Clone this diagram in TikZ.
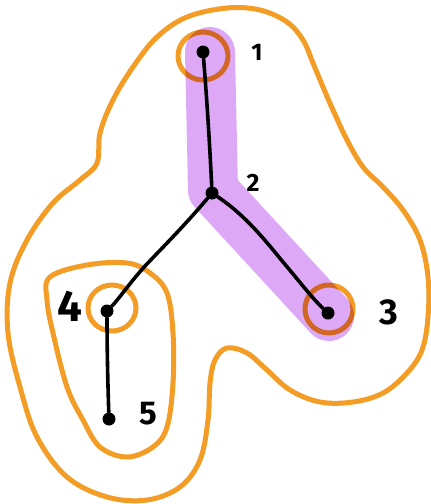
\documentclass[tikz,border=0pt]{standalone}
\usepackage{fontspec}
\setsansfont{Fira Sans}
\definecolor{blobOrange}{HTML}{F39C26}
\definecolor{pathPurple}{HTML}{DDA9F7}
\tikzset{
  vertex/.style={circle, fill=black, inner sep=0pt, minimum size=13pt},
  edge/.style={draw=black, line width=3.6pt, line cap=round},
  blob/.style={draw=blobOrange, line width=5pt, line join=round},
  ring/.style={draw=blobOrange, line width=5pt},
  highlight/.style={draw=pathPurple, line width=50pt, line cap=round, line join=round},
  lbl/.style={text=black, inner sep=0pt}
}
\begin{document}
\begin{tikzpicture}[x=1pt, y=-1pt]
  \useasboundingbox (0,0) rectangle (431,504);

  % highlighted path 1 - 2 - 3
  \draw[highlight] (210,52) -- (213,190) -- (329,316);

  % outer cluster
  \draw[blob] plot[smooth cycle, tension=0.6] coordinates {
    (97,163) (100,133) (113,100) (133,67) (157,37) (187,17) (227,8)
    (260,10) (287,22) (303,40) (313,63) (323,87) (333,110) (347,140)
    (363,167) (383,187) (403,210) (420,240) (428,277) (428,317)
    (422,350) (407,373) (383,393) (353,402) (320,402) (290,390)
    (267,370) (247,353) (227,348) (215,360) (210,383) (208,420)
    (200,460) (180,487) (147,500) (107,497) (67,477) (37,437)
    (20,387) (8,333) (10,283) (27,240) (53,203) (80,180)};

  % inner cluster around 4 and 5
  \draw[blob] plot[smooth cycle, tension=0.6] coordinates {
    (50,277) (87,265) (127,263) (150,273) (167,293) (173,333)
    (173,383) (167,427) (153,447) (127,457) (100,447) (83,420)
    (67,387) (53,333) (47,300)};

  % single-vertex rings, multiplied over the highlight
  \begin{scope}[blend mode=multiply]
    \draw[ring] (203,56) circle [x radius=25pt, y radius=24pt];
    \draw[ring] (329,309) circle [x radius=24pt, y radius=24pt];
    \draw[ring] (112,308) circle [x radius=24pt, y radius=23pt];
  \end{scope}

  % vertices
  \node[vertex] (n1) at (203,52) {};
  \node[vertex] (n2) at (212,193) {};
  \node[vertex] (n3) at (328,313) {};
  \node[vertex] (n4) at (107,311) {};
  \node[vertex] (n5) at (109,419) {};

  % edges
  \draw[edge] (n1) .. controls (207,100) and (210,150) .. (n2);
  \draw[edge] (n2) .. controls (245,215) and (265,240) .. (283,262)
                   .. controls (300,282) and (312,298) .. (n3);
  \draw[edge] (n2) .. controls (185,225) and (165,245) .. (145,266)
                   .. controls (128,285) and (118,300) .. (n4);
  \draw[edge] (n4) .. controls (107,350) and (108,390) .. (n5);

  % labels
  \node[lbl, font=\sffamily\bfseries\fontsize{24}{24}\selectfont] (l1) at (257,52) {1};
  \node[lbl, font=\sffamily\bfseries\fontsize{25}{25}\selectfont] (l2) at (253,183) {2};
  \node[lbl, font=\sffamily\bfseries\fontsize{36}{36}\selectfont] (l3) at (389,312) {3};
  \node[lbl, font=\sffamily\bfseries\fontsize{44}{44}\selectfont] (l4) at (70,306) {4};
  \node[lbl, font=\sffamily\bfseries\fontsize{33}{33}\selectfont] (l5) at (148,414) {5};
\end{tikzpicture}
\end{document}
